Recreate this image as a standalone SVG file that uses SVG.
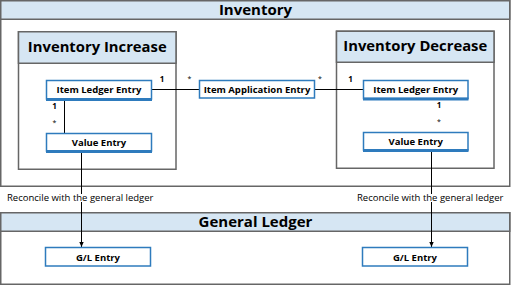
<svg xmlns="http://www.w3.org/2000/svg" width="511" height="285" viewBox="0 0 511 285">
<defs>
<style>
.frame{fill:#fff;stroke:#666;stroke-width:1.5}
.head{fill:#d6e6f3;stroke:#666;stroke-width:1.5}
.title{font-family:"Open Sans","DejaVu Sans",sans-serif;font-weight:bold;fill:#000;text-anchor:middle}
.box{fill:#fff;stroke:#2e7bbd;stroke-width:1.5}
.shadow{stroke:#2e7bbd;stroke-width:3}
.lbl{font-family:"Open Sans","DejaVu Sans",sans-serif;font-weight:bold;font-size:9.5px;fill:#000;text-anchor:middle}
.mult{font-family:"Open Sans","DejaVu Sans",sans-serif;font-weight:bold;font-size:8px;fill:#000;text-anchor:middle}
.star{font-family:"Open Sans","DejaVu Sans",sans-serif;font-size:7px;fill:#000;text-anchor:middle}
.note{font-family:"Open Sans","DejaVu Sans",sans-serif;font-size:9.5px;fill:#000}
.conn{stroke:#000;stroke-width:1;fill:none}
</style>
<marker id="arr" markerWidth="6" markerHeight="6" refX="5" refY="3" orient="auto" markerUnits="userSpaceOnUse">
<path d="M0,0.8 L5,3 L0,5.2 Z" fill="#000"/>
</marker>
</defs>
<g id="inventory">
<rect class="frame" x="0.75" y="0.75" width="509" height="185.5"/>
<rect class="head" x="0.75" y="0.75" width="509" height="18.5"/>
<text class="title" x="255.5" y="15" font-size="15">Inventory</text>
</g>
<g id="general-ledger">
<rect class="frame" x="0.75" y="212.75" width="509" height="71.5"/>
<rect class="head" x="0.75" y="212.75" width="509" height="18.5"/>
<text class="title" x="255.5" y="227" font-size="15">General Ledger</text>
</g>
<g id="inventory-increase">
<rect class="frame" x="18.5" y="31.75" width="157.5" height="137.5"/>
<rect class="head" x="18.5" y="31.75" width="157.5" height="31.5"/>
<text class="title" x="97.25" y="51.5" font-size="14.8">Inventory Increase</text>
</g>
<g id="inventory-decrease">
<rect class="frame" x="336.5" y="31.25" width="157.5" height="137"/>
<rect class="head" x="336.5" y="31.25" width="157.5" height="31"/>
<text class="title" x="415.25" y="51" font-size="14.8">Inventory Decrease</text>
</g>
<g id="connectors">
<line class="conn" x1="151.5" y1="89.5" x2="199.5" y2="89.5"/>
<line class="conn" x1="314.5" y1="89.5" x2="363.5" y2="89.5"/>
<line class="conn" x1="64.5" y1="100" x2="64.5" y2="133.5"/>
<line class="conn" x1="81.5" y1="152" x2="81.5" y2="247" marker-end="url(#arr)"/>
<line class="conn" x1="431.5" y1="151" x2="431.5" y2="247" marker-end="url(#arr)"/>
<rect x="6" y="194" width="151" height="8" fill="#fff"/>
<rect x="356" y="194" width="151" height="8" fill="#fff"/>
<text class="note" x="7" y="200.5">Reconcile with the general ledger</text>
<text class="note" x="357" y="200.5">Reconcile with the general ledger</text>
<text class="mult" x="162" y="82">1</text>
<text class="star" x="189.5" y="81">*</text>
<text class="star" x="320" y="81">*</text>
<text class="mult" x="350.5" y="82">1</text>
<text class="mult" x="54.5" y="109">1</text>
<text class="star" x="54.5" y="125">*</text>
<text class="mult" x="439" y="108">1</text>
<text class="star" x="439" y="124">*</text>
</g>
<g id="ile-left">
<rect class="box" x="46.5" y="80.5" width="105" height="18.5"/>
<line class="shadow" x1="46" y1="99.5" x2="152" y2="99.5"/>
<text class="lbl" x="99" y="93">Item Ledger Entry</text>
</g>
<g id="item-application-entry">
<rect class="box" x="199.5" y="80.5" width="115" height="17.5"/>
<text class="lbl" x="257" y="93">Item Application Entry</text>
</g>
<g id="ile-right">
<rect class="box" x="363.5" y="80.5" width="104.5" height="18"/>
<line class="shadow" x1="363" y1="99" x2="468.5" y2="99"/>
<text class="lbl" x="415.75" y="93">Item Ledger Entry</text>
</g>
<g id="value-entry-left">
<rect class="box" x="46.5" y="133.5" width="105" height="17.5"/>
<line class="shadow" x1="46" y1="151.5" x2="152" y2="151.5"/>
<text class="lbl" x="99" y="146">Value Entry</text>
</g>
<g id="value-entry-right">
<rect class="box" x="363.5" y="132.5" width="104.5" height="17.5"/>
<line class="shadow" x1="363" y1="150.5" x2="468.5" y2="150.5"/>
<text class="lbl" x="415.75" y="145">Value Entry</text>
</g>
<g id="gl-left">
<rect class="box" x="45.5" y="247.5" width="105" height="18.5"/>
<text class="lbl" x="98" y="260.5">G/L Entry</text>
</g>
<g id="gl-right">
<rect class="box" x="362.5" y="247.5" width="105" height="18.5"/>
<text class="lbl" x="415" y="260.5">G/L Entry</text>
</g>
</svg>
